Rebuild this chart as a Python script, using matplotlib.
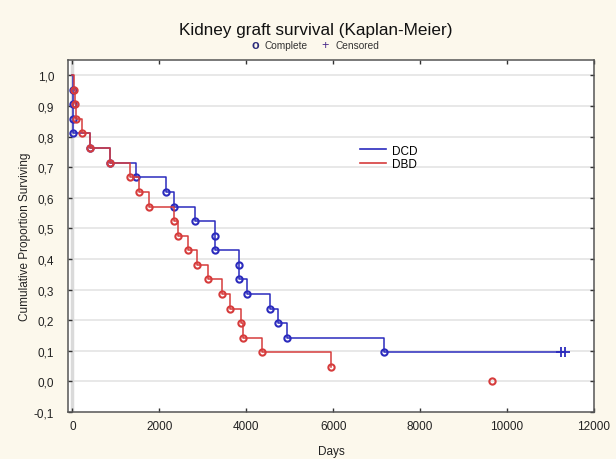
import matplotlib
matplotlib.use("Agg")
import matplotlib.pyplot as plt
from matplotlib.lines import Line2D

plt.rcParams['font.family'] = ['Liberation Sans', 'DejaVu Sans']

# DCD group: event times (days) and survival proportion after each event
dcd_times = [10, 15, 20, 25, 414, 857, 1471, 2149, 2329, 2811, 3285, 3290,
             3823, 3826, 4016, 4552, 4720, 4936, 7179]
dcd_surv = [0.952, 0.905, 0.857, 0.810, 0.762, 0.714, 0.667, 0.619, 0.571,
            0.524, 0.476, 0.429, 0.381, 0.333, 0.286, 0.238, 0.190, 0.143,
            0.095]
dcd_censored = [11241, 11333]

# DBD group
dbd_times = [30, 70, 90, 223, 414, 857, 1317, 1524, 1754, 2329, 2430, 2651,
             2874, 3110, 3441, 3616, 3878, 3924, 4368, 5954]
dbd_surv = [0.952, 0.905, 0.857, 0.810, 0.762, 0.714, 0.667, 0.619, 0.571,
            0.524, 0.476, 0.429, 0.381, 0.333, 0.286, 0.238, 0.190, 0.143,
            0.095, 0.048]
dbd_last_time = 9655
dbd_last_surv = 0.0

blue = '#2b2bbd'
red = '#d63c3c'
bg = '#fcf8ec'

fig = plt.figure(figsize=(6.16, 4.60), dpi=100, facecolor=bg)
ax = fig.add_axes([0.1104, 0.1022, 0.8539, 0.7652])
ax.set_facecolor('white')

ax.set_xlim(-100, 12000)
ax.set_ylim(-0.1, 1.05)

yt = [round(-0.1 + 0.1 * i, 1) for i in range(12)]
ax.set_yticks(yt)
ax.set_yticklabels([f"{v:.1f}".replace('.', ',').replace('-0,0', '0,0') for v in yt])
ax.set_xticks([0, 2000, 4000, 6000, 8000, 10000, 12000])
ax.set_xticklabels(['0', '2000', '4000', '6000', '8000', '10000', '12000'])

for v in yt[1:]:
    ax.axhline(v, color='#e4e4e4', lw=1.2, zorder=0)
ax.axvline(0, color='#dadada', lw=2.5, zorder=0)

ax.tick_params(direction='in', length=3, width=1, colors='#333333',
               labelsize=8.5, top=True, right=True, labelcolor='#222222')
ax.tick_params(axis='y', pad=10)
ax.tick_params(axis='x', pad=6)
for s in ax.spines.values():
    s.set_color('#555555')
    s.set_linewidth(1.1)

# DCD curve
cx = [0] + dcd_times + [dcd_censored[-1]]
cy = [1.0] + dcd_surv + [dcd_surv[-1]]
ax.step(cx, cy, where='post', color=blue, lw=1.1, zorder=2)
ax.plot(dcd_times, dcd_surv, 'o', ms=4.5, mfc='none', mec=blue, mew=1.5, zorder=3)
ax.plot(dcd_censored, [dcd_surv[-1]] * len(dcd_censored), '+', ms=7,
        color=blue, mew=1.3, zorder=3)

# DBD curve
rx = [0] + dbd_times
ry = [1.0] + dbd_surv
ax.step(rx, ry, where='post', color=red, lw=1.1, zorder=4)
ax.plot(dbd_times, dbd_surv, 'o', ms=4.5, mfc='none', mec=red, mew=1.5, zorder=5)
ax.plot([dbd_last_time], [dbd_last_surv], 'o', ms=4.5, mfc='none', mec=red,
        mew=1.5, zorder=5)

ax.set_xlabel('Days', fontsize=8.5, color='#222222', labelpad=9)
ax.set_ylabel('Cumulative Proportion Surviving', fontsize=8.5,
              color='#222222', labelpad=2)

handles = [Line2D([], [], color=blue, lw=1.2), Line2D([], [], color=red, lw=1.2)]
ax.legend(handles, ['DCD', 'DBD'], loc='upper left',
          bbox_to_anchor=(0.535, 0.79), frameon=False, fontsize=8.5,
          handlelength=2.2, handletextpad=0.5, labelspacing=0.1)

fig.text(0.512, 0.933, 'Kidney graft survival (Kaplan-Meier)', ha='center',
         va='center', fontsize=12.3, color='#111111')
fig.text(0.414, 0.899, 'o', ha='center', va='center', fontsize=9,
         color='#2a2a7a', fontweight='bold')
fig.text(0.430, 0.899, 'Complete', ha='left', va='center', fontsize=7.3,
         color='#333333')
fig.text(0.528, 0.899, '+', ha='center', va='center', fontsize=9,
         color='#4a2a8a')
fig.text(0.545, 0.899, 'Censored', ha='left', va='center', fontsize=7.3,
         color='#333333')

fig.savefig('out.png', dpi=100, facecolor=bg)
